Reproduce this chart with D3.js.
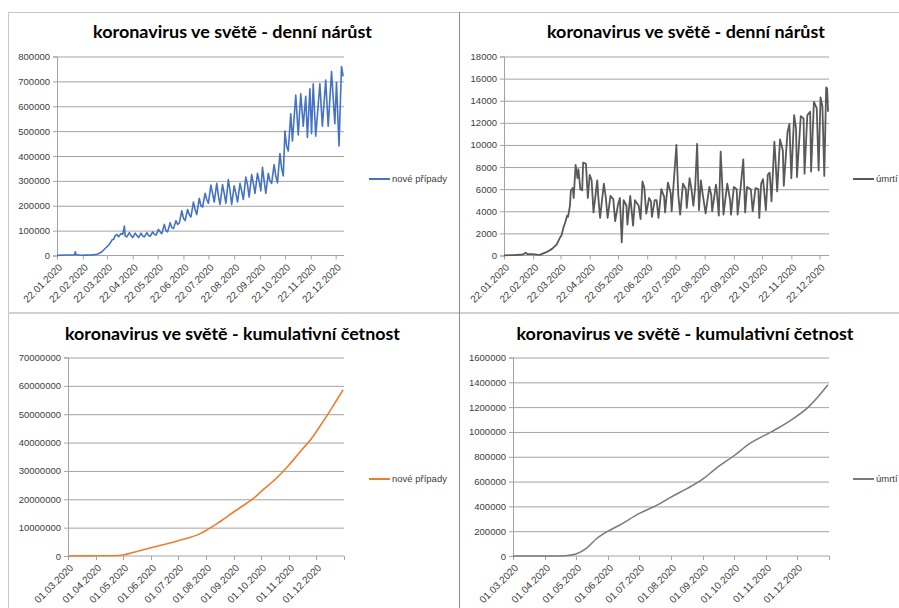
<!DOCTYPE html>
<html>
<head>
<meta charset="utf-8">
<script src="https://cdn.jsdelivr.net/npm/d3@7"></script>
<style>
  body { margin: 0; background: #fff; }
  svg { display: block; }
</style>
</head>
<body>
<svg id="chart" width="899" height="608"></svg>
<script>
// denní nárůst - nové případy
const caseDates = [
  "2020-01-22","2020-02-01","2020-02-09","2020-02-12","2020-02-13","2020-02-14","2020-02-19","2020-02-26",
  "2020-03-02","2020-03-07","2020-03-10","2020-03-13","2020-03-16","2020-03-19","2020-03-22","2020-03-25",
  "2020-03-28","2020-03-30","2020-04-01","2020-04-03","2020-04-05","2020-04-08","2020-04-10","2020-04-12",
  "2020-04-13","2020-04-15","2020-04-18","2020-04-20","2020-04-22","2020-04-25","2020-04-27","2020-04-29",
  "2020-05-02","2020-05-04","2020-05-06","2020-05-09","2020-05-11","2020-05-13","2020-05-16","2020-05-18",
  "2020-05-20","2020-05-23","2020-05-25","2020-05-27","2020-05-30","2020-06-01","2020-06-03","2020-06-06",
  "2020-06-08","2020-06-10","2020-06-13","2020-06-15","2020-06-17","2020-06-20","2020-06-22","2020-06-24",
  "2020-06-27","2020-06-29","2020-07-01","2020-07-04","2020-07-06","2020-07-08","2020-07-11","2020-07-13",
  "2020-07-15","2020-07-18","2020-07-20","2020-07-22","2020-07-25","2020-07-27","2020-07-29","2020-08-01",
  "2020-08-03","2020-08-05","2020-08-08","2020-08-10","2020-08-12","2020-08-15","2020-08-17","2020-08-19",
  "2020-08-22","2020-08-24","2020-08-26","2020-08-29","2020-08-31","2020-09-02","2020-09-05","2020-09-07",
  "2020-09-09","2020-09-12","2020-09-14","2020-09-16","2020-09-19","2020-09-21","2020-09-23","2020-09-25",
  "2020-09-27","2020-09-29","2020-10-02","2020-10-04","2020-10-06","2020-10-09","2020-10-11","2020-10-13",
  "2020-10-16","2020-10-18","2020-10-20","2020-10-22","2020-10-24","2020-10-26","2020-10-29","2020-10-31",
  "2020-11-04","2020-11-07","2020-11-10","2020-11-13","2020-11-16","2020-11-18","2020-11-21","2020-11-23",
  "2020-11-25","2020-11-28","2020-12-03","2020-12-06","2020-12-10","2020-12-13","2020-12-17","2020-12-21",
  "2020-12-23","2020-12-26","2020-12-29","2020-12-31"
];
const caseValues = [
  600, 2100, 2000, 2000, 15000, 4000, 1000, 1500,
  2000, 3500, 5000, 9000, 15000, 25000, 35000, 45000,
  62000, 65000, 80000, 85000, 75000, 88000, 85000, 118000,
  78000, 75000, 92000, 80000, 72000, 90000, 80000, 72000,
  90000, 78000, 75000, 92000, 80000, 77000, 95000, 85000,
  82000, 105000, 95000, 88000, 125000, 100000, 95000, 132000,
  112000, 108000, 140000, 125000, 130000, 180000, 150000, 140000,
  185000, 165000, 155000, 215000, 185000, 165000, 230000, 200000,
  195000, 250000, 225000, 210000, 283000, 250000, 215000, 290000,
  240000, 205000, 285000, 250000, 210000, 305000, 260000, 205000,
  280000, 250000, 215000, 290000, 260000, 225000, 315000, 285000,
  235000, 325000, 290000, 250000, 330000, 300000, 260000, 355000,
  300000, 250000, 330000, 300000, 290000, 365000, 320000, 292000,
  410000, 350000, 320000, 500000, 440000, 420000, 570000, 460000,
  645000, 485000, 650000, 520000, 640000, 475000, 670000, 490000,
  690000, 480000, 690000, 520000, 705000, 520000, 740000, 530000,
  695000, 440000, 760000, 720000
];

// denní nárůst - úmrtí
const deathDates = [
  "2020-01-22","2020-02-01","2020-02-11","2020-02-14","2020-02-16","2020-02-21","2020-02-26","2020-02-29",
  "2020-03-07","2020-03-13","2020-03-18","2020-03-22","2020-03-23","2020-03-25","2020-03-27","2020-03-29",
  "2020-03-30","2020-04-01","2020-04-02","2020-04-04","2020-04-05","2020-04-07","2020-04-09","2020-04-10",
  "2020-04-12","2020-04-14","2020-04-15","2020-04-18","2020-04-20","2020-04-22","2020-04-24","2020-04-26",
  "2020-04-30","2020-05-01","2020-05-03","2020-05-07","2020-05-09","2020-05-11","2020-05-14","2020-05-17",
  "2020-05-19","2020-05-22","2020-05-24","2020-05-26","2020-05-28","2020-05-31","2020-06-01","2020-06-04",
  "2020-06-07","2020-06-09","2020-06-13","2020-06-15","2020-06-17","2020-06-19","2020-06-21","2020-06-24",
  "2020-06-26","2020-06-27","2020-06-30","2020-07-02","2020-07-04","2020-07-07","2020-07-10","2020-07-11",
  "2020-07-14","2020-07-17","2020-07-18","2020-07-23","2020-07-25","2020-07-27","2020-07-30","2020-08-02",
  "2020-08-03","2020-08-06","2020-08-08","2020-08-10","2020-08-12","2020-08-14","2020-08-16","2020-08-18",
  "2020-08-20","2020-08-23","2020-08-27","2020-08-29","2020-08-30","2020-09-03","2020-09-04","2020-09-06",
  "2020-09-08","2020-09-10","2020-09-11","2020-09-15","2020-09-18","2020-09-19","2020-09-22","2020-09-25",
  "2020-09-26","2020-09-29","2020-10-02","2020-10-04","2020-10-06","2020-10-10","2020-10-12","2020-10-15",
  "2020-10-18","2020-10-19","2020-10-21","2020-10-23","2020-10-26","2020-10-28","2020-10-30","2020-11-01",
  "2020-11-04","2020-11-05","2020-11-07","2020-11-10","2020-11-13","2020-11-14","2020-11-18","2020-11-20",
  "2020-11-22","2020-11-25","2020-11-27","2020-11-28","2020-12-02","2020-12-05","2020-12-06","2020-12-09",
  "2020-12-12","2020-12-13","2020-12-16","2020-12-19","2020-12-21","2020-12-23","2020-12-25","2020-12-27",
  "2020-12-29","2020-12-30","2020-12-31"
];
const deathValues = [
  20, 40, 90, 250, 120, 130, 80, 60,
  300, 600, 1000, 1700, 1800, 2500, 3000, 3600,
  3500, 4500, 5900, 6100, 5200, 8200, 7000, 7800,
  6000, 5900, 8400, 8300, 5200, 7300, 6800, 3900,
  6800, 5400, 3400, 6500, 5300, 3400, 5400, 5100,
  3100, 4600, 5200, 1200, 5000, 4500, 2800, 5400,
  2700, 5000, 4500, 3300, 6700, 6100, 3800, 5200,
  4900, 3500, 5000, 5000, 3400, 6000, 5300, 3900,
  6600, 5600, 4000, 10000, 5500, 3700, 6500, 6000,
  4300, 7000, 6000, 4500, 6200, 10100, 4100, 6800,
  5500, 3800, 6200, 5500, 4000, 6400, 5700, 3600,
  9400, 5800, 3700, 6500, 5000, 3700, 6200, 6000,
  3700, 6000, 8700, 3900, 6200, 6000, 4000, 6100,
  6000, 3400, 6500, 6900, 4100, 7300, 7500, 4900,
  10300, 9000, 5800, 10500, 9500, 6300, 11200, 11900,
  7000, 12700, 11500, 7100, 12600, 12400, 7400, 12700,
  13000, 7600, 13900, 13300, 7700, 14300, 13500, 7200,
  15200, 15100, 13000
];

// kumulativní četnost - nové případy
const cumCaseDates = [
  "2020-03-01","2020-04-01","2020-04-27","2020-05-01","2020-05-12","2020-06-01","2020-07-01","2020-07-25",
  "2020-08-01","2020-08-14","2020-09-01","2020-09-15","2020-09-23","2020-10-01","2020-10-18","2020-11-01",
  "2020-11-06","2020-11-15","2020-11-24","2020-12-05","2020-12-16","2020-12-24","2020-12-31"
];
const cumCaseValues = [
  600, 70000, 200000, 350000, 1200000, 2900000, 5400000, 7800000,
  9000000, 11600000, 15600000, 18600000, 20400000, 22700000, 27400000, 32100000,
  33900000, 37400000, 40600000, 45600000, 50900000, 55000000, 58600000
];

// kumulativní četnost - úmrtí
const cumDeathDates = [
  "2020-03-01","2020-04-01","2020-04-21","2020-05-01","2020-05-11","2020-05-21","2020-06-01","2020-06-12",
  "2020-07-01","2020-07-18","2020-08-01","2020-08-16","2020-09-01","2020-09-14","2020-10-01","2020-10-16",
  "2020-11-06","2020-11-26","2020-12-12","2020-12-31"
];
const cumDeathValues = [
  20, 500, 3000, 16000, 61000, 141000, 200000, 248000,
  341000, 408000, 475000, 541000, 621000, 709000, 808000, 905000,
  1000000, 1100000, 1200000, 1380000
];

// popisky os
const topTickLabels = ["22.01.2020","22.02.2020","22.03.2020","22.04.2020","22.05.2020","22.06.2020",
  "22.07.2020","22.08.2020","22.09.2020","22.10.2020","22.11.2020","22.12.2020"];
const bottomTickLabels = ["01.03.2020","01.04.2020","01.05.2020","01.06.2020","01.07.2020",
  "01.08.2020","01.09.2020","01.10.2020","01.11.2020","01.12.2020"];
const titles = ["koronavirus ve světě - denní nárůst", "koronavirus ve světě - kumulativní četnost"];
const legendLabels = ["nové případy", "úmrtí"];

const parseDay = d3.timeParse("%Y-%m-%d");
const parseLabel = d3.timeParse("%d.%m.%Y");
const fmtLabel = d3.timeFormat("%d.%m.%Y");

const svg = d3.select("#chart");

// rámečky grafů
const frame = svg.append("g");
frame.append("line").attr("x1", 8).attr("x2", 899).attr("y1", 12.5).attr("y2", 12.5)
  .attr("stroke", "#c6c6c6");
frame.append("line").attr("x1", 8.5).attr("x2", 8.5).attr("y1", 12).attr("y2", 608)
  .attr("stroke", "#c6c6c6");
frame.append("line").attr("x1", 8).attr("x2", 899).attr("y1", 313).attr("y2", 313)
  .attr("stroke", "#d0d0d0").attr("stroke-width", 2);
frame.append("line").attr("x1", 459.5).attr("x2", 459.5).attr("y1", 12).attr("y2", 608)
  .attr("stroke", "#8a8a8a");

const panels = [
  { title: titles[0], cx: 232.5, ty: 38, tw: 279,
    dates: caseDates, values: caseValues, color: "#4472C4", width: 1.6, smooth: false,
    start: "2020-01-22", end: "2021-01-01", ticks: topTickLabels, endTick: false,
    x0: 57, x1: 344, y0: 255.5, y1: 56.5, yMax: 800000, step: 100000,
    legend: legendLabels[0], lx: 369, ly: 179 },
  { title: titles[0], cx: 686, ty: 38, tw: 278,
    dates: deathDates, values: deathValues, color: "#595959", width: 1.8, smooth: false,
    start: "2020-01-22", end: "2021-01-01", ticks: topTickLabels, endTick: false,
    x0: 504, x1: 829, y0: 255.5, y1: 56.5, yMax: 18000, step: 2000,
    legend: legendLabels[1], lx: 853, ly: 179 },
  { title: titles[1], cx: 232.5, ty: 340, tw: 335,
    dates: cumCaseDates, values: cumCaseValues, color: "#ED7D31", width: 1.6, smooth: true,
    start: "2020-03-01", end: "2021-01-01", ticks: bottomTickLabels, endTick: true,
    x0: 68, x1: 344, y0: 556, y1: 357.5, yMax: 70000000, step: 10000000,
    legend: legendLabels[0], lx: 369, ly: 479 },
  { title: titles[1], cx: 685, ty: 340, tw: 337,
    dates: cumDeathDates, values: cumDeathValues, color: "#7a7a7a", width: 1.5, smooth: true,
    start: "2020-03-01", end: "2021-01-01", ticks: bottomTickLabels, endTick: true,
    x0: 513, x1: 829, y0: 556, y1: 357.5, yMax: 1600000, step: 200000,
    legend: legendLabels[1], lx: 853, ly: 479 }
];

panels.forEach((p) => {
  const g = svg.append("g");

  const x = d3.scaleTime()
    .domain([parseDay(p.start), parseDay(p.end)])
    .range([p.x0, p.x1]);
  const y = d3.scaleLinear()
    .domain([0, p.yMax])
    .range([p.y0, p.y1]);
  const yTicks = d3.range(0, p.yMax + p.step / 2, p.step);

  // mřížka
  g.append("g")
    .attr("transform", `translate(${p.x0},0)`)
    .call(d3.axisLeft(y).tickValues(yTicks.slice(1)).tickSize(-(p.x1 - p.x0)).tickFormat(""))
    .call((s) => s.select(".domain").remove())
    .selectAll("line").attr("stroke", "#a3a3a3");

  // osa y
  const yAxis = g.append("g")
    .attr("transform", `translate(${p.x0},0)`)
    .call(d3.axisLeft(y).tickValues(yTicks).tickSize(4).tickPadding(3).tickFormat(d3.format("d")));
  yAxis.select(".domain").attr("stroke", "#a3a3a3");
  yAxis.selectAll("line").attr("stroke", "#a3a3a3");
  yAxis.selectAll("text")
    .attr("fill", "#404040")
    .attr("font-family", "Liberation Sans, Arial, sans-serif")
    .attr("font-size", "9.5px");

  // osa x
  const tickDates = p.ticks.map(parseLabel);
  if (p.endTick) tickDates.push(parseDay(p.end));
  const xAxis = g.append("g")
    .attr("transform", `translate(0,${p.y0})`)
    .call(d3.axisBottom(x).tickValues(tickDates).tickSize(4)
      .tickFormat((d, i) => (i < p.ticks.length ? fmtLabel(d) : "")));
  xAxis.select(".domain").attr("stroke", "#a3a3a3").attr("d", `M${p.x0},0H${p.x1}`);
  xAxis.selectAll("line").attr("stroke", "#a3a3a3");
  xAxis.selectAll("text")
    .attr("x", 0).attr("y", 0).attr("dy", "0.35em")
    .attr("text-anchor", "end")
    .attr("transform", "translate(3,10) rotate(-45)")
    .attr("fill", "#404040")
    .attr("font-family", "Liberation Sans, Arial, sans-serif")
    .attr("font-size", "10px");

  // čára
  const points = p.dates.map((d, i) => ({ date: parseDay(d), value: p.values[i] }));
  const line = d3.line()
    .x((d) => x(d.date))
    .y((d) => y(d.value))
    .curve(p.smooth ? d3.curveMonotoneX : d3.curveLinear);
  g.append("path")
    .datum(points)
    .attr("fill", "none")
    .attr("stroke", p.color)
    .attr("stroke-width", p.width)
    .attr("stroke-linejoin", "round")
    .attr("d", line);

  // nadpis
  g.append("text")
    .text(p.title)
    .attr("x", p.cx - p.tw / 2)
    .attr("y", p.ty)
    .attr("textLength", p.tw)
    .attr("lengthAdjust", "spacingAndGlyphs")
    .attr("fill", "#000")
    .attr("font-family", "Lato, sans-serif")
    .attr("font-weight", "bold")
    .attr("font-size", "17px");

  // legenda
  g.append("line")
    .attr("x1", p.lx).attr("x2", p.lx + 21)
    .attr("y1", p.ly).attr("y2", p.ly)
    .attr("stroke", p.color).attr("stroke-width", 2);
  g.append("text")
    .text(p.legend)
    .attr("x", p.lx + 23)
    .attr("y", p.ly)
    .attr("dy", "0.35em")
    .attr("fill", "#404040")
    .attr("font-family", "Liberation Sans, Arial, sans-serif")
    .attr("font-size", "9.5px");
});
</script>
</body>
</html>
